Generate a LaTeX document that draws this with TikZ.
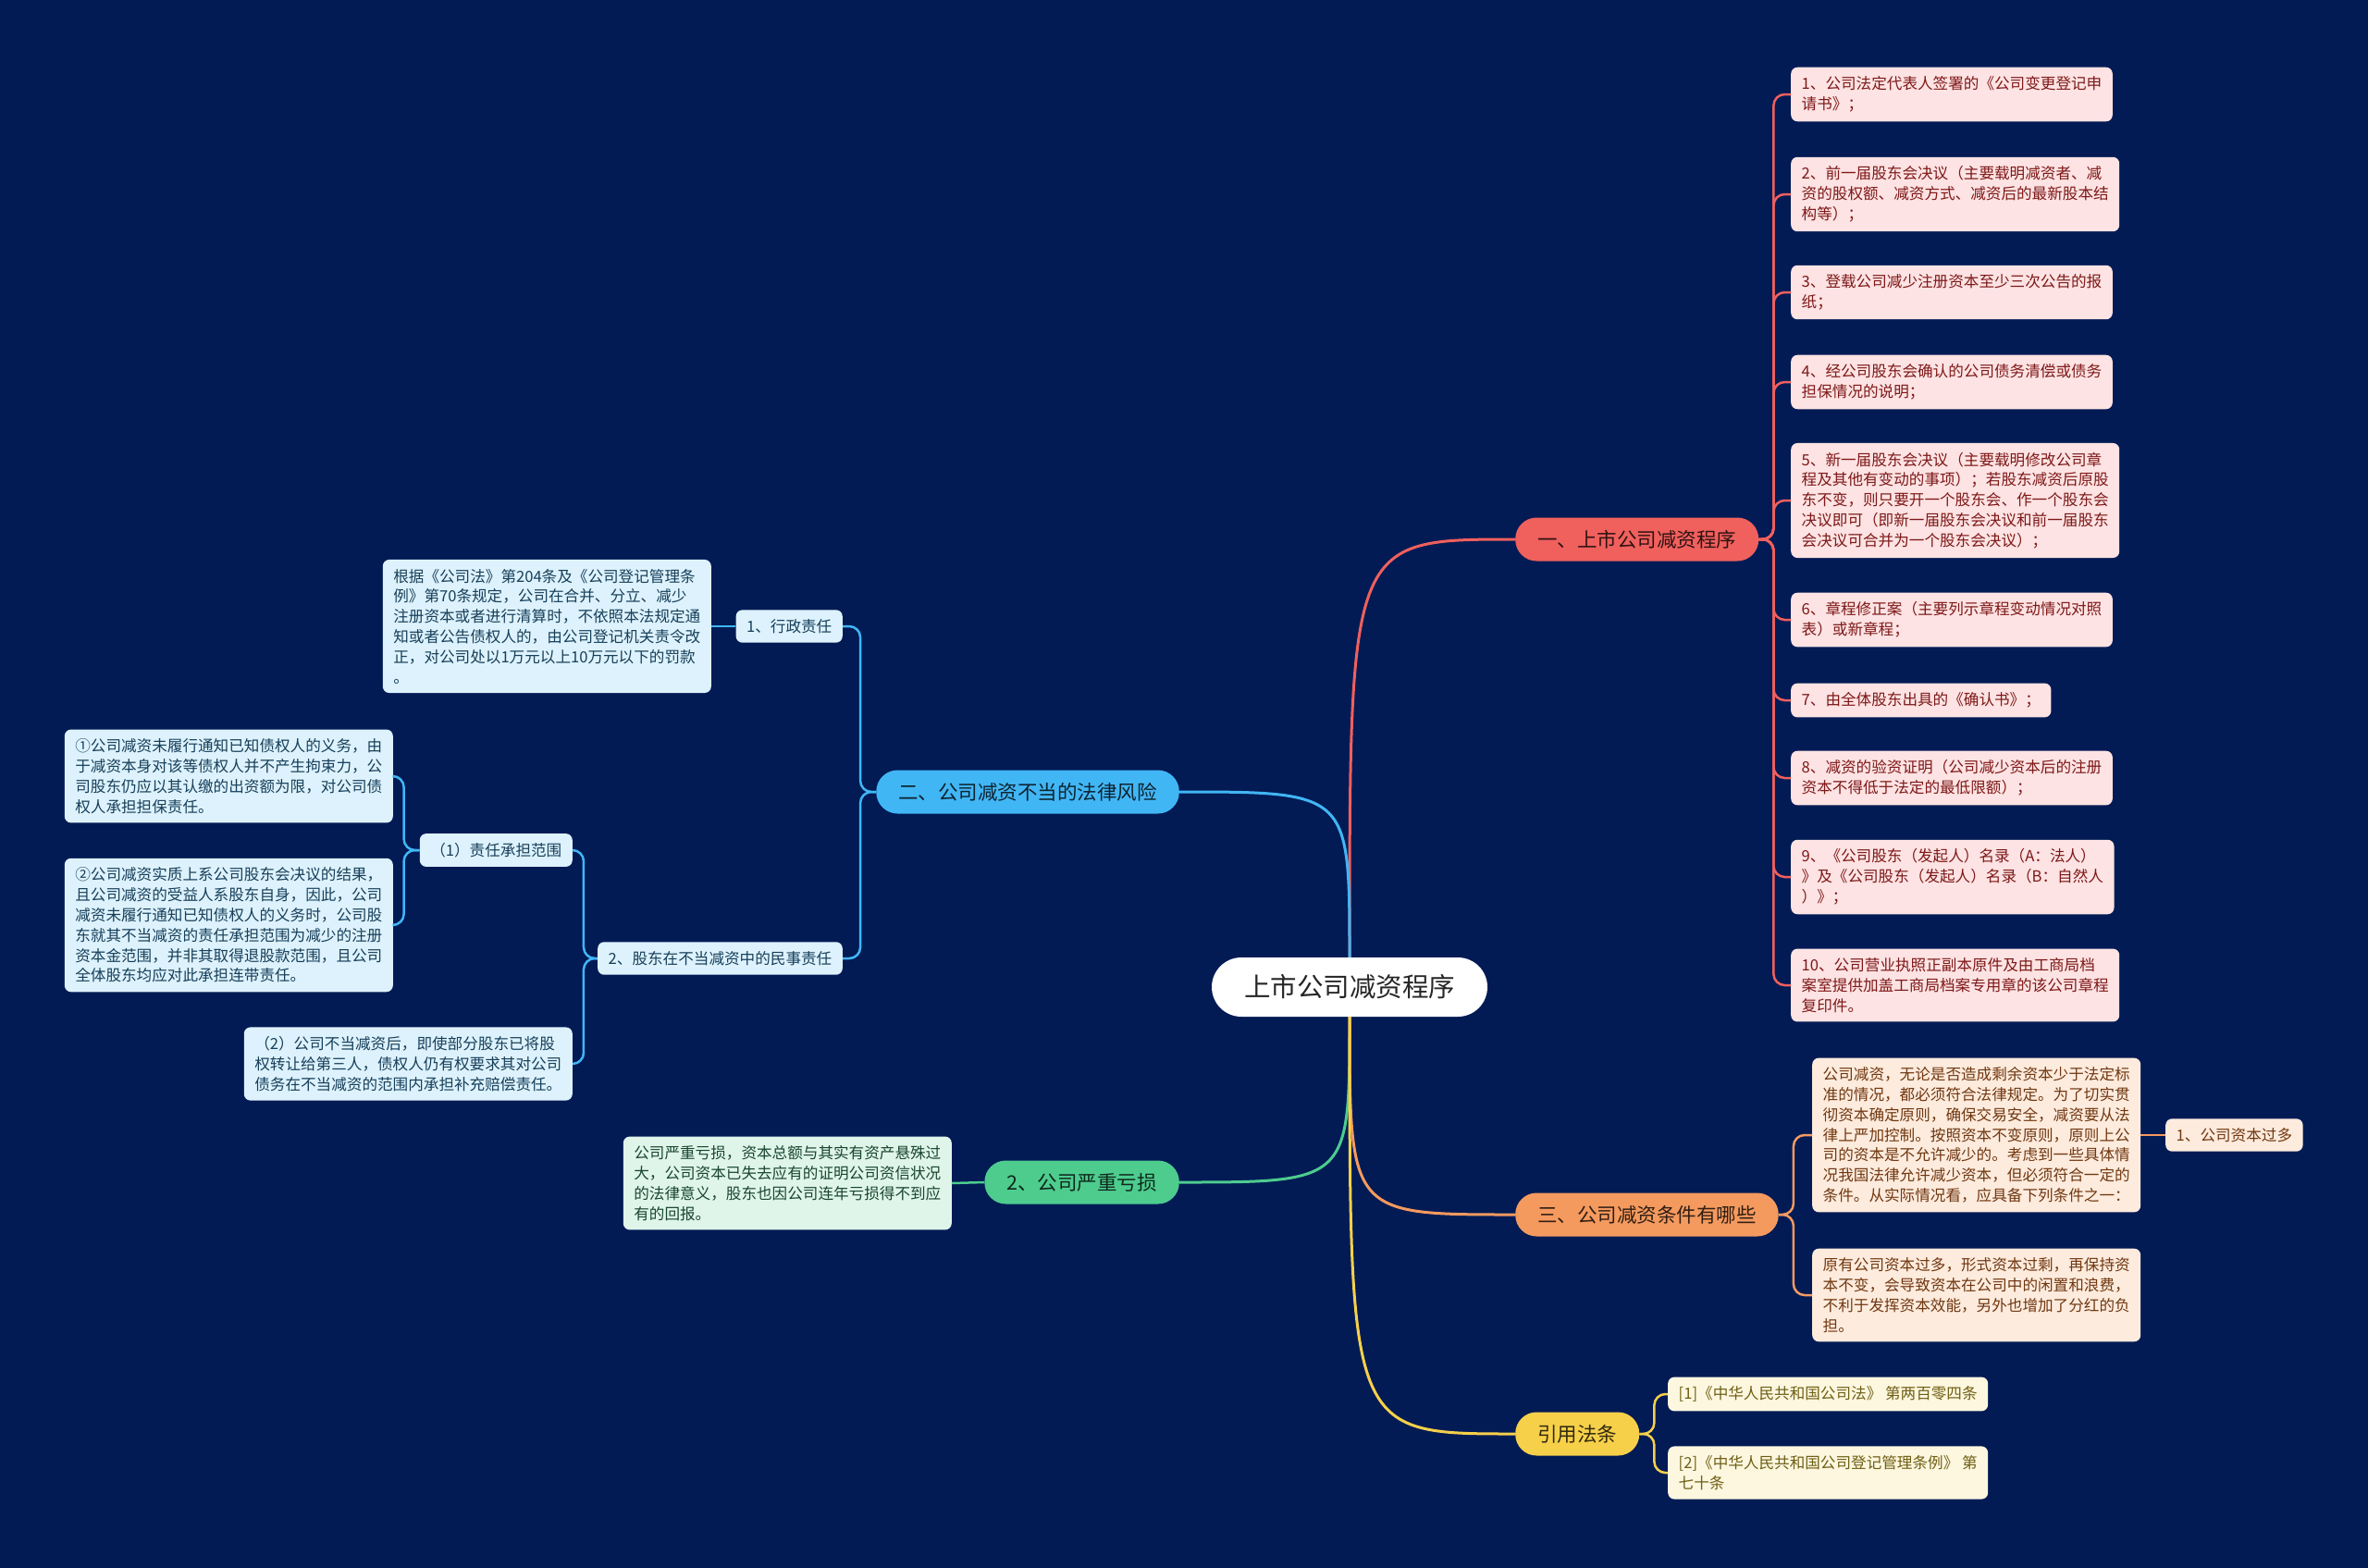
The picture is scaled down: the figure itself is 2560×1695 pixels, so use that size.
\documentclass[tikz,border=0pt]{standalone}
\usepackage{fontspec}
\newfontfamily\cjk{Noto Sans CJK SC}
\usepackage{xcolor}
\usepackage{tikz}

\definecolor{bg}{HTML}{021B55}
\definecolor{brRed}{HTML}{F0605D}
\definecolor{brBlue}{HTML}{41B6F5}
\definecolor{brGreen}{HTML}{4DCC8E}
\definecolor{brOrange}{HTML}{F59A5F}
\definecolor{brYellow}{HTML}{F7D04A}
\definecolor{lfRed}{HTML}{FDE3E3}
\definecolor{lfBlue}{HTML}{DDF2FC}
\definecolor{lfGreen}{HTML}{DFF5EA}
\definecolor{lfOrange}{HTML}{FDEBDD}
\definecolor{lfYellow}{HTML}{FDF7DF}
\definecolor{txRed}{HTML}{7E1818}
\definecolor{txBlue}{HTML}{173F5A}
\definecolor{txGreen}{HTML}{1A4530}
\definecolor{txOrange}{HTML}{703710}
\definecolor{txYellow}{HTML}{6E5E14}

\begin{document}
\begin{tikzpicture}[x=1pt, y=-1pt,
  root/.style={fill=white, text=black!85, rounded corners=32pt, minimum height=64pt,
    inner xsep=35pt, font=\cjk\fontsize{28.5}{34}\selectfont},
  branch/.style={rounded corners=23pt, minimum height=47pt, inner xsep=24pt,
    font=\cjk\fontsize{21.5}{26}\selectfont},
  leaf/.style={rounded corners=7pt, align=left, inner xsep=11.5pt, inner ysep=10pt,
    font=\cjk\fontsize{16.6}{21.8}\selectfont},
  stem/.style={line width=3pt},
  link/.style={line width=2.5pt, rounded corners=12pt},
  red branch/.style={branch, fill=brRed, text=black!80!brRed},
  blue branch/.style={branch, fill=brBlue, text=black!80!brBlue},
  green branch/.style={branch, fill=brGreen, text=black!80!brGreen},
  orange branch/.style={branch, fill=brOrange, text=black!80!brOrange},
  yellow branch/.style={branch, fill=brYellow, text=black!80!brYellow},
  red leaf/.style={leaf, fill=lfRed, text=txRed},
  blue leaf/.style={leaf, fill=lfBlue, text=txBlue},
  green leaf/.style={leaf, fill=lfGreen, text=txGreen},
  orange leaf/.style={leaf, fill=lfOrange, text=txOrange},
  yellow leaf/.style={leaf, fill=lfYellow, text=txYellow}
]
\useasboundingbox (0,0) rectangle (2560,1695);
\fill[bg] (0,0) rectangle (2560,1695);

% centre and main branches
\node[root] (root) at (1459,1067) {上市公司减资程序};
\node[red branch, anchor=west] (proc) at (1638,583) {一、上市公司减资程序};
\node[blue branch, anchor=east] (risk) at (1275,856) {二、公司减资不当的法律风险};
\node[green branch, anchor=east] (loss) at (1275,1278) {2、公司严重亏损};
\node[orange branch, anchor=west] (cond) at (1638,1313) {三、公司减资条件有哪些};
\node[yellow branch, anchor=west] (cite) at (1638,1550) {引用法条};

% 一 : documents
\node[red leaf, anchor=west] (doc1) at (1936,102) {1、公司法定代表人签署的《公司变更登记申\\请书》；};
\node[red leaf, anchor=west] (doc2) at (1936,210) {2、前一届股东会决议（主要载明减资者、减\\资的股权额、减资方式、减资后的最新股本结\\构等）；};
\node[red leaf, anchor=west] (doc3) at (1936,316) {3、登载公司减少注册资本至少三次公告的报\\纸；};
\node[red leaf, anchor=west] (doc4) at (1936,413) {4、经公司股东会确认的公司债务清偿或债务\\担保情况的说明；};
\node[red leaf, anchor=west] (doc5) at (1936,541) {5、新一届股东会决议（主要载明修改公司章\\程及其他有变动的事项）；若股东减资后原股\\东不变，则只要开一个股东会、作一个股东会\\决议即可（即新一届股东会决议和前一届股东\\会决议可合并为一个股东会决议）；};
\node[red leaf, anchor=west] (doc6) at (1936,670) {6、章程修正案（主要列示章程变动情况对照\\表）或新章程；};
\node[red leaf, anchor=west] (doc7) at (1936,757) {7、由全体股东出具的《确认书》；};
\node[red leaf, anchor=west] (doc8) at (1936,841) {8、减资的验资证明（公司减少资本后的注册\\资本不得低于法定的最低限额）；};
\node[red leaf, anchor=west] (doc9) at (1936,948) {9、《公司股东（发起人）名录（A：法人）\\》及《公司股东（发起人）名录（B：自然人\\）》；};
\node[red leaf, anchor=west] (doc10) at (1936,1065) {10、公司营业执照正副本原件及由工商局档\\案室提供加盖工商局档案专用章的该公司章程\\复印件。};

% 二 : legal risk
\node[blue leaf, anchor=east] (admin) at (911,677) {1、行政责任};
\node[blue leaf, anchor=east] (adminTxt) at (769,677) {根据《公司法》第204条及《公司登记管理条\\例》第70条规定，公司在合并、分立、减少\\注册资本或者进行清算时，不依照本法规定通\\知或者公告债权人的，由公司登记机关责令改\\正，对公司处以1万元以上10万元以下的罚款\\。};
\node[blue leaf, anchor=east] (civil) at (911,1036) {2、股东在不当减资中的民事责任};
\node[blue leaf, anchor=east] (scope) at (619,919) {（1）责任承担范围};
\node[blue leaf, anchor=east] (after) at (619,1150) {（2）公司不当减资后，即使部分股东已将股\\权转让给第三人，债权人仍有权要求其对公司\\债务在不当减资的范围内承担补充赔偿责任。};
\node[blue leaf, anchor=east] (scopeA) at (425,839) {①公司减资未履行通知已知债权人的义务，由\\于减资本身对该等债权人并不产生拘束力，公\\司股东仍应以其认缴的出资额为限，对公司债\\权人承担担保责任。};
\node[blue leaf, anchor=east] (scopeB) at (425,1000) {②公司减资实质上系公司股东会决议的结果，\\且公司减资的受益人系股东自身，因此，公司\\减资未履行通知已知债权人的义务时，公司股\\东就其不当减资的责任承担范围为减少的注册\\资本金范围，并非其取得退股款范围，且公司\\全体股东均应对此承担连带责任。};

% 2 : heavy loss
\node[green leaf, anchor=east] (lossTxt) at (1029,1279) {公司严重亏损，资本总额与其实有资产悬殊过\\大，公司资本已失去应有的证明公司资信状况\\的法律意义，股东也因公司连年亏损得不到应\\有的回报。};

% 三 : conditions
\node[orange leaf, anchor=west] (condA) at (1959,1227) {公司减资，无论是否造成剩余资本少于法定标\\准的情况，都必须符合法律规定。为了切实贯\\彻资本确定原则，确保交易安全，减资要从法\\律上严加控制。按照资本不变原则，原则上公\\司的资本是不允许减少的。考虑到一些具体情\\况我国法律允许减少资本，但必须符合一定的\\条件。从实际情况看，应具备下列条件之一：};
\node[orange leaf, anchor=west] (condB) at (1959,1400) {原有公司资本过多，形式资本过剩，再保持资\\本不变，会导致资本在公司中的闲置和浪费，\\不利于发挥资本效能，另外也增加了分红的负\\担。};
\node[orange leaf, anchor=west] (excess) at (2341,1227) {1、公司资本过多};

% 引用法条
\node[yellow leaf, anchor=west] (law1) at (1803,1507) {[1]《中华人民共和国公司法》 第两百零四条};
\node[yellow leaf, anchor=west] (law2) at (1803,1592) {[2]《中华人民共和国公司登记管理条例》 第\\七十条};

% stems from the centre
\draw[stem, draw=brRed] (root.north) .. controls (root.north |- proc.west) and (root.north |- proc.west) .. (proc.west);
\draw[stem, draw=brBlue] (root.north) .. controls (root.north |- risk.east) and (root.north |- risk.east) .. (risk.east);
\draw[stem, draw=brGreen] (root.south) .. controls (root.south |- loss.east) and (root.south |- loss.east) .. (loss.east);
\draw[stem, draw=brOrange] (root.south) .. controls (root.south |- cond.west) and (root.south |- cond.west) .. (cond.west);
\draw[stem, draw=brYellow] (root.south) .. controls (root.south |- cite.west) and (root.south |- cite.west) .. (cite.west);

% 一
\draw[link, draw=brRed] (proc.east) -- ++(16,0) |- (doc1.west);
\draw[link, draw=brRed] (proc.east) -- ++(16,0) |- (doc2.west);
\draw[link, draw=brRed] (proc.east) -- ++(16,0) |- (doc3.west);
\draw[link, draw=brRed] (proc.east) -- ++(16,0) |- (doc4.west);
\draw[link, draw=brRed] (proc.east) -- ++(16,0) |- (doc5.west);
\draw[link, draw=brRed] (proc.east) -- ++(16,0) |- (doc6.west);
\draw[link, draw=brRed] (proc.east) -- ++(16,0) |- (doc7.west);
\draw[link, draw=brRed] (proc.east) -- ++(16,0) |- (doc8.west);
\draw[link, draw=brRed] (proc.east) -- ++(16,0) |- (doc9.west);
\draw[link, draw=brRed] (proc.east) -- ++(16,0) |- (doc10.west);

% 二
\draw[link, draw=brBlue] (risk.west) -- ++(-17,0) |- (admin.east);
\draw[link, draw=brBlue] (risk.west) -- ++(-17,0) |- (civil.east);
\draw[link, draw=brBlue] (admin.west) -- (adminTxt.east);
\draw[link, draw=brBlue] (civil.west) -- ++(-15,0) |- (scope.east);
\draw[link, draw=brBlue] (civil.west) -- ++(-15,0) |- (after.east);
\draw[link, draw=brBlue] (scope.west) -- ++(-17,0) |- (scopeA.east);
\draw[link, draw=brBlue] (scope.west) -- ++(-17,0) |- (scopeB.east);

% 2
\draw[link, draw=brGreen] (loss.west) -- (lossTxt.east);

% 三
\draw[link, draw=brOrange] (cond.east) -- ++(16,0) |- (condA.west);
\draw[link, draw=brOrange] (cond.east) -- ++(16,0) |- (condB.west);
\draw[link, draw=brOrange] (condA.east) -- (excess.west);

% 引用法条
\draw[link, draw=brYellow] (cite.east) -- ++(16,0) |- (law1.west);
\draw[link, draw=brYellow] (cite.east) -- ++(16,0) |- (law2.west);
\end{tikzpicture}
\end{document}
